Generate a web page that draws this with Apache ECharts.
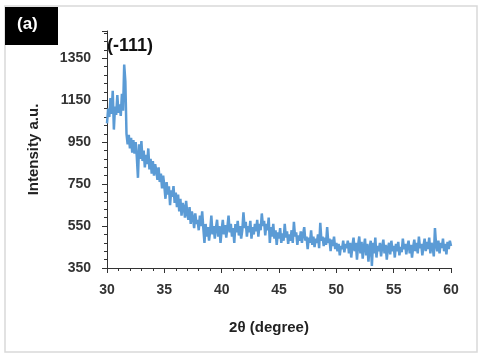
<!DOCTYPE html>
<html>
<head>
<meta charset="utf-8">
<script src="https://cdn.jsdelivr.net/npm/echarts@6/dist/echarts.min.js"></script>
<style>
  html, body { margin: 0; padding: 0; background: #fff; }
  #chart { width: 480px; height: 357px; }
</style>
</head>
<body>
<div id="chart"></div>
<script>
// 2θ 从 30 到 60，步长 0.1
var twoThetaStart = 30;
var twoThetaStep = 0.1;
var xTicks = [30, 35, 40, 45, 50, 55, 60];
var yTicks = [350, 550, 750, 950, 1150, 1350];
var intensity = [
    1040, 1110, 1070, 1160, 1085, 1195, 1010, 1120, 1080, 1175,
    1090, 1130, 1075, 1180, 1100, 1320, 1240, 990, 940, 985,
    920, 970, 900, 960, 895, 950, 880, 780, 940, 870,
    955, 860, 910, 830, 890, 845, 920, 820, 870, 800,
    860, 790, 845, 815, 770, 830, 760, 800, 730, 790,
    740, 680, 760, 700, 740, 650, 720, 690, 740, 660,
    710, 640, 700, 620, 680, 600, 660, 640, 590, 670,
    610, 580, 640, 560, 620, 590, 540, 610, 560, 580,
    530, 600, 550, 620, 540, 470, 560, 500, 545, 480,
    530, 600, 510, 550, 490, 540, 580, 500, 550, 470,
    530, 580, 510, 555, 495, 545, 600, 520, 560, 500,
    540, 470, 560, 520, 575, 505, 550, 490, 530, 615,
    540, 570, 500, 550, 520, 575, 490, 545, 510, 560,
    525, 580, 500, 560, 530, 610, 550, 575, 505, 560,
    530, 590, 470, 545, 500, 560, 490, 530, 460, 520,
    490, 540, 470, 515, 480, 560, 495, 525, 465, 510,
    480, 530, 470, 570, 500, 520, 460, 505, 480, 525,
    470, 510, 545, 480, 500, 440, 495, 470, 530, 460,
    500, 450, 490, 470, 510, 445, 565, 480, 500, 455,
    495, 460, 545, 470, 490, 430, 485, 455, 500, 440,
    470, 430, 465, 410, 455, 440, 480, 425, 465, 445,
    480, 420, 470, 400, 455, 495, 430, 470, 390, 460,
    500, 420, 475, 395, 450, 490, 410, 465, 380, 445,
    480, 360, 470, 420, 495, 400, 455, 430, 470, 405,
    450, 485, 420, 460, 390, 445, 470, 415, 480, 430,
    455, 400, 465, 430, 475, 410, 450, 425, 490, 440,
    465, 415, 455, 480, 420, 460, 400, 450, 485, 430,
    470, 420, 500, 445, 465, 410, 455, 490, 430, 475,
    440, 495, 420, 470, 450, 405, 540, 460, 430, 480,
    420, 470, 445, 490, 430, 465, 415, 475, 440, 480,
    455
];

var points = intensity.map(function (v, i) {
    return [+(twoThetaStart + i * twoThetaStep).toFixed(1), v];
});

var chart = echarts.init(document.getElementById('chart'));

var option = {
    animation: false,
    backgroundColor: '#fff',
    grid: { left: 107, right: 29, top: 31, bottom: 89 },
    xAxis: {
        type: 'value',
        min: xTicks[0],
        max: xTicks[xTicks.length - 1],
        interval: 5,
        name: '2θ (degree)',
        nameLocation: 'middle',
        nameGap: 52,
        nameTextStyle: { fontFamily: 'Liberation Sans', fontWeight: 'bold', fontSize: 15, color: '#222', padding: [0, 20, 0, 0] },
        axisLine: { lineStyle: { color: '#333', width: 1 } },
        axisTick: { show: true, inside: false, length: 5, lineStyle: { color: '#333' } },
        minorTick: { show: true, splitNumber: 5, length: 3, lineStyle: { color: '#333' } },
        splitLine: { show: false },
        axisLabel: { fontFamily: 'Liberation Sans', fontWeight: 'bold', fontSize: 14, color: '#333', margin: 15 }
    },
    yAxis: {
        type: 'value',
        min: yTicks[0],
        max: 1480,
        interval: 200,
        name: 'Intensity a.u.',
        nameLocation: 'middle',
        nameGap: 66,
        nameTextStyle: { fontFamily: 'Liberation Sans', fontWeight: 'bold', fontSize: 15, color: '#222' },
        axisLine: { show: true, lineStyle: { color: '#333', width: 1 } },
        axisTick: { show: true, inside: false, length: 5, lineStyle: { color: '#333' } },
        minorTick: { show: true, splitNumber: 5, length: 3, lineStyle: { color: '#333' } },
        splitLine: { show: false },
        axisLabel: {
            fontFamily: 'Liberation Sans', fontWeight: 'bold', fontSize: 14, color: '#333', margin: 16,
            formatter: function (v) { return yTicks.indexOf(v) >= 0 ? v : ''; }
        }
    },
    series: [{
        type: 'line',
        data: points,
        showSymbol: false,
        lineStyle: { color: '#5B9BD5', width: 2.5 },
        itemStyle: { color: '#5B9BD5' }
    }],
    graphic: [
        { type: 'rect', shape: { x: 5, y: 6, width: 472, height: 346 }, style: { fill: 'none', stroke: '#d9d9d9', lineWidth: 1.5 }, z: -1 },
        { type: 'rect', shape: { x: 5, y: 7, width: 53, height: 38 }, style: { fill: '#000' } },
        { type: 'text', left: 17, top: 16, style: { text: '(a)', fill: '#fff', font: 'bold 17px "Liberation Sans"' } },
        { type: 'text', left: 107, top: 37, style: { text: '(-111)', fill: '#111', font: 'bold 18px "Liberation Sans"' } }
    ]
};

chart.setOption(option);
</script>
</body>
</html>
